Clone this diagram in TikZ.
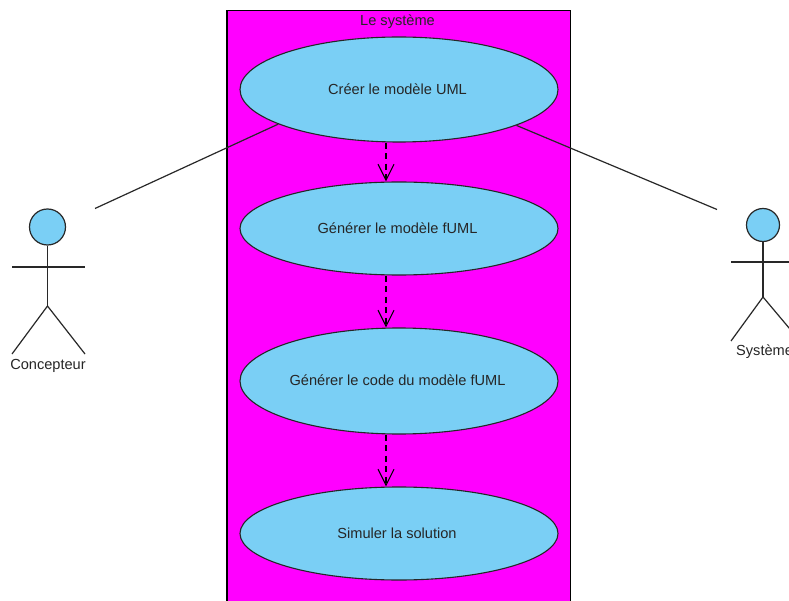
\documentclass[tikz,border=0pt]{standalone}
\usepackage{fontspec}
\setmainfont{Liberation Sans}
\usetikzlibrary{shapes.geometric,arrows.meta}
\definecolor{ucblue}{RGB}{122,207,245}
\definecolor{sysmag}{RGB}{255,0,255}
\definecolor{inkline}{RGB}{40,40,40}
\tikzset{
  x=1pt,y=1pt,
  usecase/.style={ellipse,draw=black!85,fill=ucblue,line width=1.1pt,inner sep=0pt,minimum width=318pt,text=black!80,font=\fontsize{14.6}{16}\selectfont},
  label/.style={inner sep=0pt,text=black!85,font=\fontsize{14.6}{16}\selectfont},
  assoc/.style={draw=inkline,line width=1.2pt},
  dep/.style={draw=black,line width=1.1pt,dash pattern=on 6pt off 4.5pt,-{Straight Barb[length=16pt,width=16pt,line width=1.1pt,sep=0pt]}},
  stick/.style={draw=inkline,line width=1.2pt},
  head/.style={circle,draw=inkline,fill=ucblue,line width=1.2pt,inner sep=0pt},
}
\begin{document}
\begin{tikzpicture}
\useasboundingbox (0,0) rectangle (789,-601);
\clip (0,0) rectangle (789,-601);
\fill[white] (0,0) rectangle (789,-601);
\draw[draw=black,fill=sysmag,line width=1.1pt] (227,-10.5) rectangle (570.5,-620);
\node[label] (title) at (397.5,-21.5) {Le système};
\node[usecase,minimum height=105pt] (uc1) at (399,-89.5) {};
\node[usecase,minimum height=93pt] (uc2) at (399,-228.5) {};
\node[usecase,minimum height=106pt] (uc3) at (399,-381) {};
\node[usecase,minimum height=93pt] (uc4) at (399,-533.5) {};
\node[label] (t1) at (397.5,-89) {Créer le modèle UML};
\node[label] (t2) at (397.5,-228) {Générer le modèle fUML};
\node[label] (t3) at (397.5,-380.5) {Générer le code du modèle fUML};
\node[label] (t4) at (397,-533) {Simuler la solution};
\coordinate (dx) at (386,0);
\draw[dep] (uc1.south -| dx) -- (uc2.north -| dx);
\draw[dep] (uc2.south -| dx) -- (uc3.north -| dx);
\draw[dep] (uc3.south -| dx) -- (uc4.north -| dx);
% actors
\node[head,minimum size=36pt] (h1) at (47.5,-227) {};
\coordinate (a1hip) at (47.5,-306);
\coordinate (a1al) at (12,-267);
\coordinate (a1ar) at (85,-267);
\coordinate (a1fl) at (12,-354);
\coordinate (a1fr) at (85,-354);
\draw[stick] (h1) -- (a1hip);
\draw[stick] (a1al) -- (a1ar);
\draw[stick] (a1fl) -- (a1hip) -- (a1fr);
\node[label] (a1) at (48,-365.5) {Concepteur};
\node[head,minimum size=33pt] (h2) at (763,-225) {};
\coordinate (a2hip) at (763,-297);
\coordinate (a2al) at (731,-262);
\coordinate (a2ar) at (800,-262);
\coordinate (a2fl) at (731,-341);
\coordinate (a2fr) at (800,-341);
\draw[stick] (h2) -- (a2hip);
\draw[stick] (a2al) -- (a2ar);
\draw[stick] (a2fl) -- (a2hip) -- (a2fr);
\node[label,anchor=west] (a2) at (736,-352) {Système};
% associations
\coordinate (l1) at (95,-208.5);
\coordinate (r1) at (717,-209.5);
\draw[assoc] (uc1.196.2) -- (l1);
\draw[assoc] (uc1.343.8) -- (r1);
\end{tikzpicture}
\end{document}
